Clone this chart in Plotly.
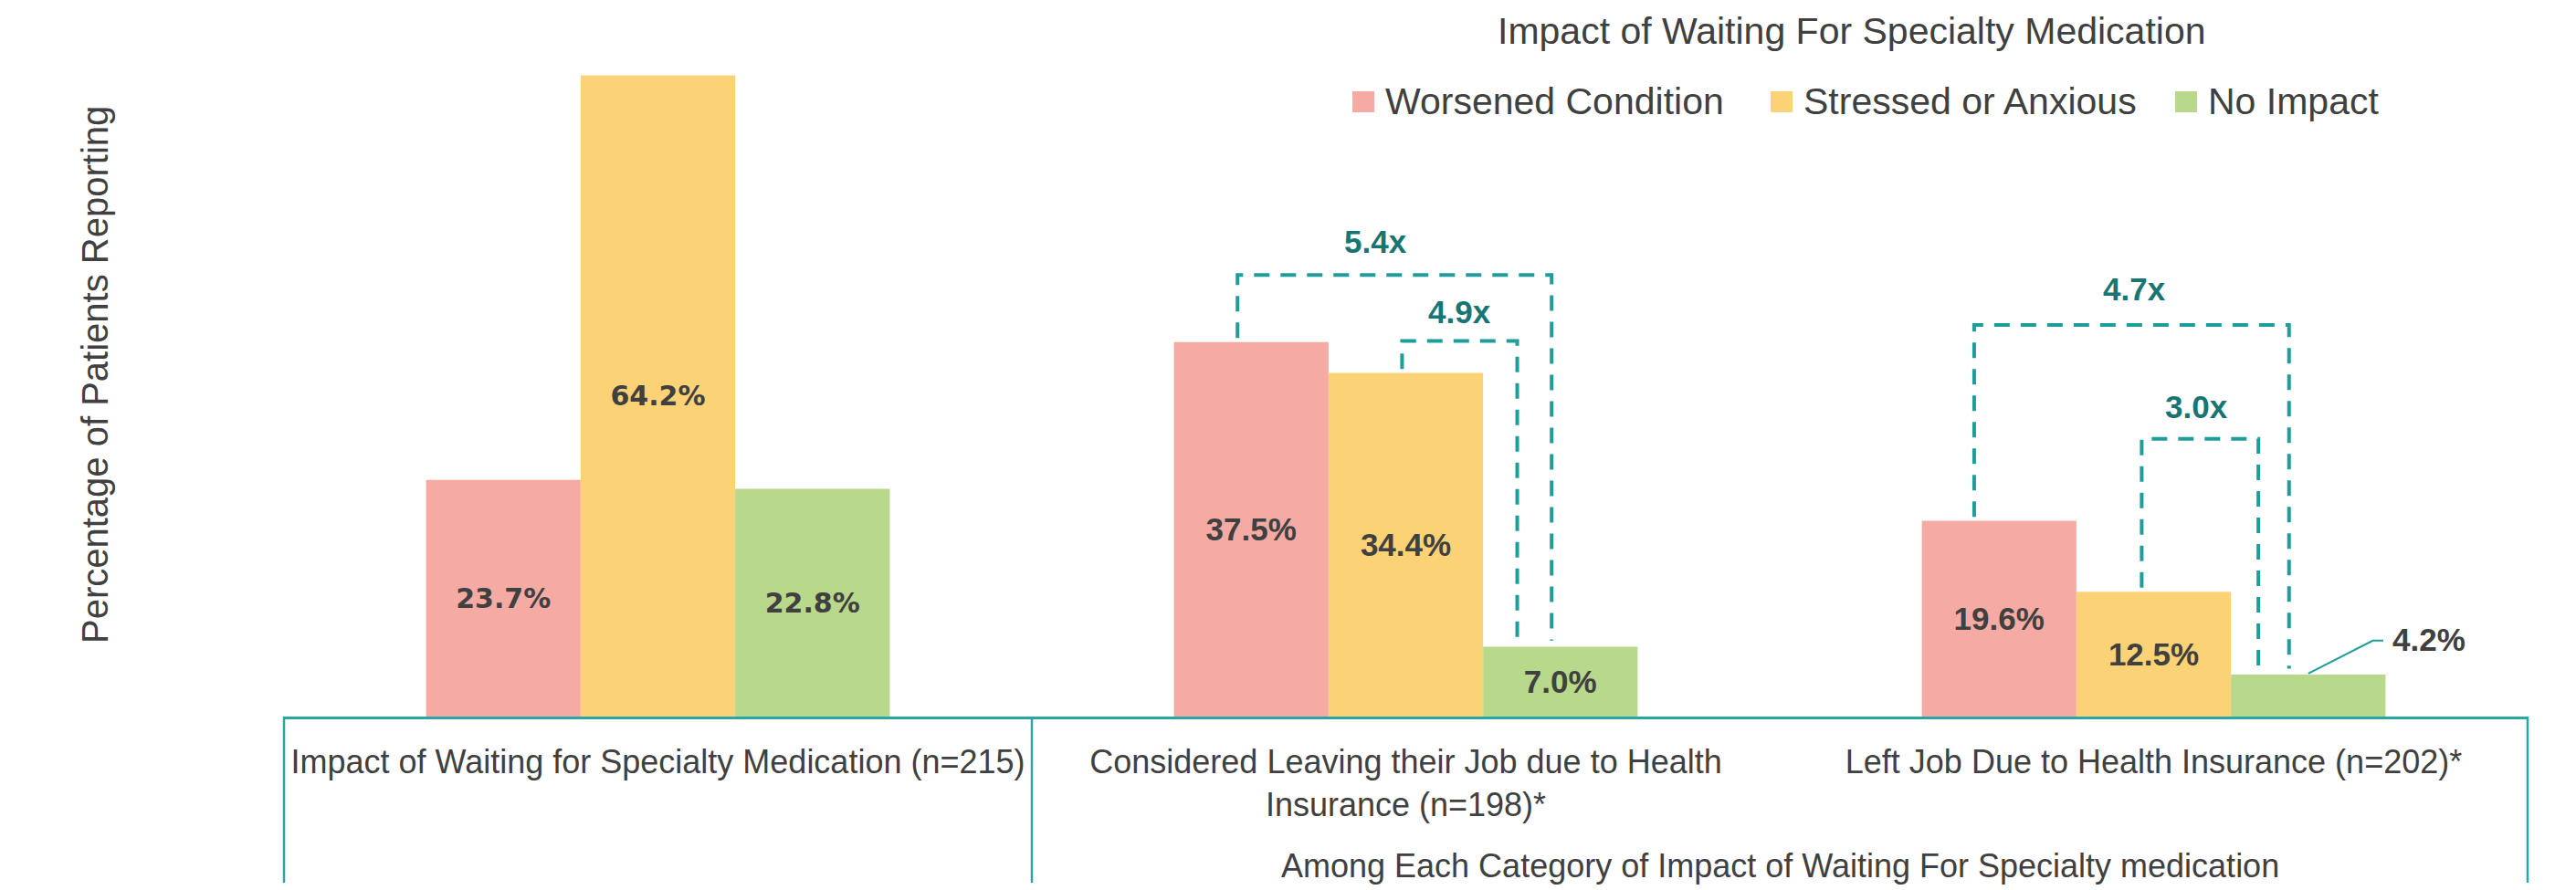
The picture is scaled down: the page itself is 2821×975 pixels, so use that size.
import plotly.graph_objects as go

# ---------------- data ----------------
categories = [
    "Impact of Waiting for Specialty Medication (n=215)",
    "Considered Leaving their Job due to Health<br>Insurance (n=198)*",
    "Left Job Due to Health Insurance (n=202)*",
]
series_names = ["Worsened Condition", "Stressed or Anxious", "No Impact"]
worsened = [23.7, 37.5, 19.6]
stressed = [64.2, 34.4, 12.5]
no_impact = [22.8, 7.0, 4.2]
ratio_labels = ["5.4x", "4.9x", "4.7x", "3.0x"]
legend_title = "Impact of Waiting For Specialty Medication"
footer_text = "Among Each Category of Impact of Waiting For Specialty medication"
y_title = "Percentage of Patients Reporting"

# ---------------- style ----------------
OFF = 8  # default page body margin
W, H = 2821 - OFF, 975 - OFF
# plot-area edges in page pixels
PL, PR, PT, PB = 311, 2768, 19, 785
L, R, T, B = PL - OFF, PR - OFF, PT - OFF, PB - OFF
colors = ["#F6AAA4", "#FBD376", "#B8D88B"]
TXT = "#404040"
TEAL = "#1E9E9B"
TEAL_TXT = "#177573"
BOX = "#2AA5A5"
FONT = "Liberation Sans, Arial, sans-serif"
YMAX = 70


def px_x(px):  # page pixel -> paper
    return (px - PL) / (PR - PL)


def px_y(py):
    return (PB - py) / (PB - PT)


series = [worsened, stressed, no_impact]
fig = go.Figure()
for name, vals, col in zip(series_names, series, colors):
    texts = [f"{v:.1f}%" if v >= 5 else "" for v in vals]
    fig.add_trace(go.Bar(
        x=list(range(len(categories))), y=vals, name=name,
        marker=dict(color=col, line=dict(width=0)),
        text=texts, textposition="inside", insidetextanchor="middle",
        textfont=dict(family=["DejaVu Sans", FONT, FONT], size=[30, 35, 35],
                      color=TXT, weight="bold"),
        showlegend=False, hoverinfo="skip",
    ))

fig.update_layout(
    width=W, height=H,
    margin=dict(l=L, r=W - R, t=T, b=H - B),
    paper_bgcolor="white", plot_bgcolor="white",
    barmode="group", bargap=0.38, bargroupgap=0,
    font=dict(family=FONT, color=TXT),
    showlegend=False,
    xaxis=dict(range=[-0.5, 2.5], tickvals=list(range(len(categories))),
               ticktext=categories, ticks="", showgrid=False, zeroline=False,
               showline=True, linecolor=BOX, linewidth=3,
               tickfont=dict(size=36, color=TXT), ticklabelstandoff=16),
    yaxis=dict(range=[0, YMAX], showticklabels=False, ticks="", showgrid=False,
               zeroline=False, showline=False),
)

shapes = []
annotations = []

# box lines below the axis
for xp in [0, 1 / 3, 1]:
    shapes.append(dict(type="line", xref="paper", yref="paper", x0=xp, x1=xp,
                       y0=0, y1=px_y(967), line=dict(color=BOX, width=2.5)))

# footer
annotations.append(dict(text=footer_text, xref="paper", yref="paper",
                        x=(1 / 3 + 1) / 2, y=px_y(948), xanchor="center", yanchor="middle",
                        showarrow=False, font=dict(size=36, color=TXT)))

# y axis title
annotations.append(dict(text=y_title, xref="paper", yref="paper", textangle=-90,
                        x=px_x(104), y=px_y(410), xanchor="center", yanchor="middle",
                        showarrow=False, font=dict(size=40, color=TXT)))

# manual legend
annotations.append(dict(text=legend_title, xref="paper", yref="paper",
                        x=px_x(2028), y=px_y(34), xanchor="center", yanchor="middle",
                        showarrow=False, font=dict(size=41, color=TXT)))
leg_sq_x = [1481, 1939, 2382]
for name, col, sx in zip(series_names, colors, leg_sq_x):
    shapes.append(dict(type="rect", xref="paper", yref="paper",
                       x0=px_x(sx), x1=px_x(sx + 24), y0=px_y(123), y1=px_y(100),
                       fillcolor=col, line=dict(width=0)))
    annotations.append(dict(text=name, xref="paper", yref="paper",
                            x=px_x(sx + 34), y=px_y(111), xanchor="left", yanchor="middle",
                            showarrow=False, font=dict(size=41, color=TXT)))

# ratio brackets: (category, from series, to series, left off, right off, top, label x off, label y)
bw = (1 - 0.38) / 3
offsets = [-bw, 0, bw]
brackets = [
    (1, 0, 2, -0.225, 0.195, 44.2, -0.04, 47.6),
    (1, 1, 2, -0.005, 0.149, 37.6, 0.072, 40.5),
    (2, 0, 2, -0.240, 0.181, 39.2, -0.026, 42.8),
    (2, 1, 2, -0.016, 0.140, 27.8, 0.057, 31.0),
]
for (c, s_from, s_to, lo, ro, top, lx, ly), lab in zip(brackets, ratio_labels):
    xl, xr = c + lo, c + ro
    y_from = series[s_from][c] + 0.4
    y_to = series[s_to][c] + 0.6
    path = f"M{xl},{y_from} V{top} H{xr} V{y_to}"
    shapes.append(dict(type="path", xref="x", yref="y", path=path,
                       line=dict(color=TEAL, width=4, dash="17px,12px")))
    annotations.append(dict(text=f"<b>{lab}</b>", xref="x", yref="y", x=c + lx, y=ly,
                            xanchor="center", yanchor="middle", showarrow=False,
                            font=dict(size=35, color=TEAL_TXT)))

# callout labels for values too small to hold text
for si, vals in enumerate(series):
    for c, v in enumerate(vals):
        if v < 5:
            bx = c + offsets[si]
            path = f"M{bx},{v + 0.1} L{c + 0.293},{v + 3.4} H{c + 0.307}"
            shapes.append(dict(type="path", xref="x", yref="y", path=path,
                               line=dict(color=TEAL, width=2)))
            annotations.append(dict(text=f"<b>{v:.1f}%</b>", xref="x", yref="y",
                                    x=c + 0.317, y=v + 3.5, xanchor="left", yanchor="middle",
                                    showarrow=False, font=dict(size=35, color=TXT)))

fig.update_layout(shapes=shapes, annotations=annotations)
fig.write_html("out.html")
